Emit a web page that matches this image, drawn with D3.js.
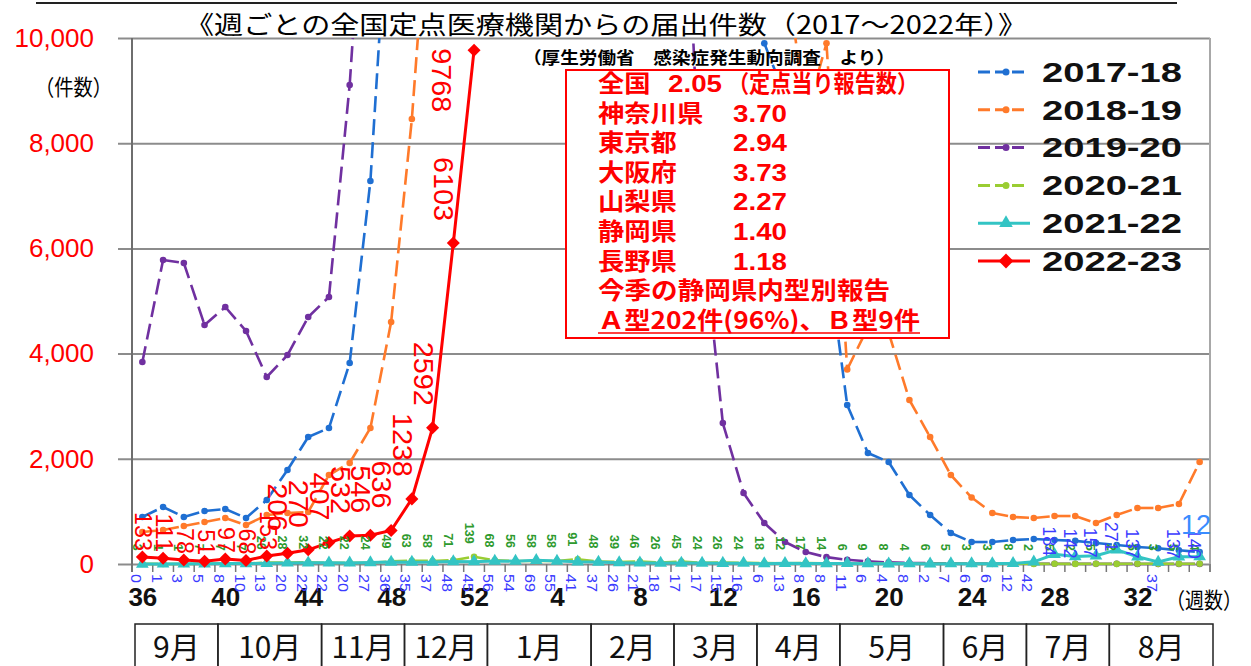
<!DOCTYPE html>
<html>
<head>
<meta charset="utf-8">
<script src="https://cdn.jsdelivr.net/npm/d3@7"></script>
<style>
  body { margin: 0; background: #fff; }
  svg { display: block; font-family: "Noto Sans CJK JP", "Noto Sans", sans-serif; }
</style>
</head>
<body>
<svg id="chart" width="1251" height="666"></svg>
<script>
// week categories of one season (Sep -> Aug)
const weeks = [36, 37, 38, 39, 40, 41, 42, 43, 44, 45, 46, 47, 48, 49, 50, 51, 52,
  1, 2, 3, 4, 5, 6, 7, 8, 9, 10, 11, 12, 13, 14, 15, 16, 17, 18, 19, 20,
  21, 22, 23, 24, 25, 26, 27, 28, 29, 30, 31, 32, 33, 34, 35];
const weekLabels = [36, 40, 44, 48, 52, 4, 8, 12, 16, 20, 24, 28, 32];
const yTicks = [0, 2000, 4000, 6000, 8000, 10000];

// reported cases per week (values above 10,000 run off the top of the chart)
const s2017 = [894, 1084, 894, 1008, 1046, 875, 1217, 1787, 2414, 2585, 3821, 7281, 13600,
  19000, 30000, 45000, 60000, 95000, 150000, 240000, 270000, 280000, 230000, 150000, 100000,
  70000, 50000, 35000, 25000, 12500, 9900, 8900, 7400, 6000, 3023, 2110, 1939, 1312, 932, 589,
  418, 418, 456, 475, 456, 440, 400, 360, 323, 300, 260, 228];
const s2018 = [608, 646, 722, 798, 874, 741, 931, 969, 989, 1692, 1920, 2585, 4600, 8460,
  13800, 25000, 45000, 60000, 130000, 210000, 280000, 250000, 180000, 110000, 70000, 45000,
  30000, 22000, 17000, 14000, 12000, 11500, 8500, 9900, 3700, 4500, 4400, 3118, 2414, 1692,
  1264, 970, 894, 874, 912, 912, 779, 931, 1065, 1065, 1141, 1939];
const s2019 = [3840, 5779, 5722, 4544, 4886, 4430, 3555, 3973, 4696, 5076, 9106, 15000, 25000,
  35000, 55000, 85000, 120000, 100000, 95000, 90000, 85000, 80000, 60000, 45000, 30000, 20000,
  14700, 6440, 2680, 1350, 780, 418, 228, 130, 80, 50, 30, 20, 15, 12, 10, 8, 6, 5, 5, 4, 3, 3,
  2, 2, 2, 2];
const s2020 = [3, 1, 1, 7, 7, 7, 26, 28, 32, 22, 22, 24, 49, 63, 58, 71, 139, 68, 56, 58, 58,
  91, 48, 39, 46, 26, 45, 24, 26, 24, 18, 12, 17, 14, 6, 9, 8, 4, 6, 5, 3, 3, 8, 2, 5, 2, 5, 2,
  5, 3, 5, 4];
const s2021 = [0, 1, 3, 5, 8, 10, 13, 20, 22, 22, 20, 27, 36, 35, 37, 48, 45, 56, 54, 69, 55,
  41, 37, 26, 21, 18, 17, 17, 15, 16, 6, 13, 8, 8, 11, 6, 4, 8, 2, 7, 6, 6, 12, 42, 184, 142,
  157, 271, 137, 37, 137, 140];
const s2022 = [133, 111, 78, 51, 97, 68, 153, 206, 270, 407, 532, 546, 636, 1238, 2592, 6103, 9768];

const seasons = ['2017-18', '2018-19', '2019-20', '2020-21', '2021-22', '2022-23'];
const colors = ['#1f6fd2', '#ff7a2a', '#7030a0', '#9acd32', '#33c4c4', '#ff0000'];

const months = ['9月', '10月', '11月', '12月', '1月', '2月', '3月', '4月', '5月', '6月', '7月', '8月'];
const monthWeeks = [4, 5, 4, 4, 5, 4, 4, 4, 5, 4, 4, 5];

const boxNames = ['全国', '神奈川県', '東京都', '大阪府', '山梨県', '静岡県', '長野県'];
const boxValues = ['2.05', '3.70', '2.94', '3.73', '2.27', '1.40', '1.18'];

const svg = d3.select('#chart');
const pLeft = 132, pRight = 1210, pTop = 38, pBottom = 564;
const numFont = '"Liberation Sans", Arial, sans-serif';

const x = d3.scalePoint().domain(d3.range(weeks.length)).range([pLeft, pRight]).padding(0.5);
const y = d3.scaleLinear().domain([0, 10000]).range([pBottom, pTop]);
const step = x.step();

// heading rule and title
svg.append('line')
  .attr('x1', 36).attr('x2', 1177).attr('y1', 3).attr('y2', 3)
  .attr('stroke', '#222').attr('stroke-width', 2);
svg.append('text')
  .attr('x', 185).attr('y', 34)
  .attr('font-size', 25)
  .attr('textLength', 842).attr('lengthAdjust', 'spacingAndGlyphs')
  .text('《週ごとの全国定点医療機関からの届出件数（2017～2022年）》');

// y grid + labels
const gy = svg.append('g')
  .attr('transform', 'translate(' + pLeft + ',0)')
  .call(d3.axisLeft(y).tickValues(yTicks).tickFormat(d3.format(','))
    .tickSizeInner(-(pRight - pLeft)).tickSizeOuter(0).tickPadding(38));
gy.select('.domain').remove();
gy.selectAll('.tick line').attr('x1', -14).attr('stroke', '#8c8c8c').attr('stroke-width', 2);
gy.selectAll('.tick text')
  .attr('fill', '#ff0000').attr('font-size', 26).attr('font-family', numFont);

// frame lines
svg.append('line').attr('x1', pLeft).attr('x2', pLeft).attr('y1', pTop).attr('y2', pBottom + 8)
  .attr('stroke', '#6e6e6e').attr('stroke-width', 2);
svg.append('line').attr('x1', pRight).attr('x2', pRight).attr('y1', pTop).attr('y2', pBottom + 8)
  .attr('stroke', '#a8a8a8').attr('stroke-width', 2);

// category tick marks
svg.append('g').selectAll('line')
  .data(d3.range(weeks.length + 1))
  .join('line')
    .attr('x1', d => pLeft + d * step).attr('x2', d => pLeft + d * step)
    .attr('y1', pBottom).attr('y2', pBottom + 8)
    .attr('stroke', '#777').attr('stroke-width', 1.5);

// week labels
const gx = svg.append('g')
  .attr('transform', 'translate(0,' + pBottom + ')')
  .call(d3.axisBottom(x)
    .tickValues(d3.range(weeks.length).filter(i => weekLabels.includes(weeks[i])))
    .tickFormat(i => weeks[i]).tickSize(0).tickPadding(24));
gx.select('.domain').remove();
gx.selectAll('.tick text')
  .attr('font-size', 26).attr('font-weight', 'bold').attr('fill', '#111')
  .attr('font-family', numFont);

svg.append('text').attr('x', 35).attr('y', 95).attr('font-size', 22)
  .attr('textLength', 77).attr('lengthAdjust', 'spacingAndGlyphs').text('（件数）');
svg.append('text').attr('x', 1166).attr('y', 608).attr('font-size', 22)
  .attr('textLength', 76).attr('lengthAdjust', 'spacingAndGlyphs').text('（週数）');

// clip to plot area
svg.append('clipPath').attr('id', 'plotclip')
  .append('rect').attr('x', pLeft).attr('y', pTop).attr('width', pRight - pLeft).attr('height', pBottom - pTop + 10);

const plot = svg.append('g').attr('clip-path', 'url(#plotclip)');
const line = d3.line().x(d => x(d.i)).y(d => y(d.v));

function points(values) {
  return values.map((v, i) => ({ i: i, v: v })).filter(d => d.v != null);
}

// dashed series: Excel restarts the dash at every point, so each segment is its own path
function dashedSeries(values, color) {
  const pts = points(values);
  const g = plot.append('g');
  g.selectAll('path')
    .data(d3.pairs(pts))
    .join('path')
      .attr('d', d => line(d))
      .attr('fill', 'none')
      .attr('stroke', color)
      .attr('stroke-width', 2.6)
      .attr('stroke-dasharray', '16,7');
  g.selectAll('circle')
    .data(pts)
    .join('circle')
      .attr('cx', d => x(d.i)).attr('cy', d => y(d.v)).attr('r', 3.3)
      .attr('fill', color);
}

dashedSeries(s2017, colors[0]);
dashedSeries(s2018, colors[1]);
dashedSeries(s2019, colors[2]);
dashedSeries(s2020, colors[3]);

// 2021-22 cyan with triangles
const p2021 = points(s2021);
plot.append('path').datum(p2021)
  .attr('d', line).attr('fill', 'none').attr('stroke', colors[4]).attr('stroke-width', 3);
plot.append('g').selectAll('path')
  .data(p2021)
  .join('path')
    .attr('d', d3.symbol(d3.symbolTriangle, 70))
    .attr('transform', d => 'translate(' + x(d.i) + ',' + y(d.v) + ')')
    .attr('fill', colors[4]);

// 2022-23 red with diamonds
const p2022 = points(s2022);
plot.append('path').datum(p2022)
  .attr('d', line).attr('fill', 'none').attr('stroke', colors[5]).attr('stroke-width', 3);
plot.append('g').selectAll('path')
  .data(p2022)
  .join('path')
    .attr('d', d3.symbol(d3.symbolSquare, 85))
    .attr('transform', d => 'translate(' + x(d.i) + ',' + y(d.v) + ') rotate(45)')
    .attr('fill', colors[5]);

// data labels (vertical)
function digits(v) { return String(v).length; }

svg.append('g').selectAll('text')
  .data(points(s2020))
  .join('text')
    .attr('transform', d => 'translate(' + (x(d.i) - 5) + ',' + (y(d.v) - 13) + ') rotate(90)')
    .attr('text-anchor', 'end').attr('dominant-baseline', 'central')
    .attr('font-size', 13).attr('font-weight', 'bold').attr('font-family', numFont)
    .attr('fill', '#2e9a2e')
    .attr('textLength', d => digits(d.v) * 7).attr('lengthAdjust', 'spacingAndGlyphs')
    .text(d => d.v);

svg.append('g').selectAll('text')
  .data(p2021)
  .join('text')
    .attr('transform', d => d.v >= 100
      ? 'translate(' + (x(d.i) - 5) + ',' + (y(d.v) + 2) + ') rotate(90)'
      : 'translate(' + (x(d.i) - 6) + ',' + (pBottom + 10) + ') rotate(90)')
    .attr('text-anchor', d => d.v >= 100 ? 'end' : 'start')
    .attr('dominant-baseline', 'central')
    .attr('font-size', d => d.v >= 100 ? 19 : 15).attr('font-family', numFont)
    .attr('fill', '#3b3bff')
    .attr('textLength', d => digits(d.v) * (d.v >= 100 ? 10 : 9)).attr('lengthAdjust', 'spacingAndGlyphs')
    .text(d => d.v);

svg.append('text')
  .attr('x', 1181).attr('y', 534)
  .attr('font-size', 27).attr('font-family', numFont).attr('fill', '#3a8cff')
  .text('12');

svg.append('g').selectAll('text')
  .data(p2022)
  .join('text')
    .attr('transform', d => d.v > 9000
      ? 'translate(' + (x(d.i) - 33) + ',' + (y(d.v) - 2) + ') rotate(90)'
      : d.v < 200
        ? 'translate(' + (x(d.i) + 1) + ',' + (y(d.v) - 6) + ') rotate(90)'
        : 'translate(' + (x(d.i) - 10) + ',' + (y(d.v) - 22) + ') rotate(90)')
    .attr('text-anchor', d => d.v > 9000 ? 'start' : 'end')
    .attr('dominant-baseline', 'central')
    .attr('font-size', d => d.v < 200 ? 23 : 27).attr('font-family', numFont)
    .attr('fill', colors[5])
    .attr('textLength', d => digits(d.v) * (d.v < 200 ? 13 : 16)).attr('lengthAdjust', 'spacingAndGlyphs')
    .text(d => d.v);

// source note
svg.append('text').attr('x', 523).attr('y', 64)
  .attr('font-size', 17).attr('font-weight', 'bold')
  .attr('textLength', 372).attr('lengthAdjust', 'spacingAndGlyphs')
  .text('（厚生労働省　感染症発生動向調査　より）');

// red annotation box
svg.append('rect').attr('x', 566).attr('y', 70).attr('width', 383).attr('height', 268)
  .attr('fill', '#fff').attr('stroke', '#ff0000').attr('stroke-width', 2);

const box = svg.append('g').attr('fill', '#ff0000').attr('font-weight', 'bold').attr('font-size', 24);
box.selectAll('text.name')
  .data(boxNames)
  .join('text').attr('class', 'name')
    .attr('x', 598).attr('y', (d, i) => 92 + i * 29.6)
    .attr('textLength', d => d.length * 26.3).attr('lengthAdjust', 'spacingAndGlyphs')
    .text(d => d);
box.selectAll('text.val')
  .data(boxValues)
  .join('text').attr('class', 'val')
    .attr('x', (d, i) => i === 0 ? 668 : 733).attr('y', (d, i) => 92 + i * 29.6)
    .attr('font-family', numFont).attr('font-size', 23)
    .attr('textLength', 54).attr('lengthAdjust', 'spacingAndGlyphs')
    .text(d => d);
box.append('text').attr('x', 728).attr('y', 92)
  .attr('textLength', 190).attr('lengthAdjust', 'spacingAndGlyphs')
  .text('（定点当り報告数）');
box.append('text').attr('x', 598).attr('y', 92 + 7 * 29.6)
  .attr('textLength', 292).attr('lengthAdjust', 'spacingAndGlyphs')
  .text('今季の静岡県内型別報告');
box.append('text').attr('x', 598).attr('y', 92 + 8 * 29.6)
  .attr('textLength', 322).attr('lengthAdjust', 'spacingAndGlyphs')
  .text('Ａ型202件(96%)、Ｂ型9件');
svg.append('line').attr('x1', 598).attr('x2', 920).attr('y1', 333).attr('y2', 333)
  .attr('stroke', '#ff0000').attr('stroke-width', 1.5);

// legend
const legend = svg.append('g').selectAll('g')
  .data(seasons)
  .join('g')
    .attr('transform', (d, i) => 'translate(0,' + (72 + i * 37.8) + ')');
legend.append('line')
  .attr('x1', 978).attr('x2', (d, i) => i < 4 ? 1024 : 1030)
  .attr('stroke', (d, i) => colors[i]).attr('stroke-width', 3)
  .attr('stroke-dasharray', (d, i) => i < 4 ? '12,5' : null);
legend.each(function(d, i) {
  const g = d3.select(this);
  if (i < 4) {
    g.append('circle').attr('cx', 1006).attr('r', 3.5).attr('fill', colors[i]);
  } else {
    g.append('path')
      .attr('d', d3.symbol(i === 4 ? d3.symbolTriangle : d3.symbolSquare, i === 4 ? 80 : 110))
      .attr('transform', 'translate(1006,0)' + (i === 5 ? ' rotate(45)' : ''))
      .attr('fill', colors[i]);
  }
});
legend.append('text')
  .attr('x', 1042).attr('dy', '0.36em')
  .attr('font-size', 27).attr('font-weight', 'bold').attr('font-family', numFont).attr('fill', '#111')
  .attr('textLength', 140).attr('lengthAdjust', 'spacingAndGlyphs')
  .text(d => d);

// month table
const mx = d3.scaleLinear().domain([0, 52]).range([135, 1213]);
const monthStart = d3.cumsum([0].concat(monthWeeks));
const cells = svg.append('g').selectAll('g')
  .data(months)
  .join('g');
cells.append('rect')
  .attr('x', (d, i) => mx(monthStart[i])).attr('y', 624)
  .attr('width', (d, i) => mx(monthStart[i + 1]) - mx(monthStart[i])).attr('height', 60)
  .attr('fill', 'none').attr('stroke', '#222').attr('stroke-width', 1.5);
cells.append('text')
  .attr('x', (d, i) => (mx(monthStart[i]) + mx(monthStart[i + 1])) / 2).attr('y', 658)
  .attr('text-anchor', 'middle').attr('font-size', 30).attr('fill', '#111')
  .attr('textLength', d => (d.length - 1) * 16 + 31).attr('lengthAdjust', 'spacingAndGlyphs')
  .text(d => d);
</script>
</body>
</html>
